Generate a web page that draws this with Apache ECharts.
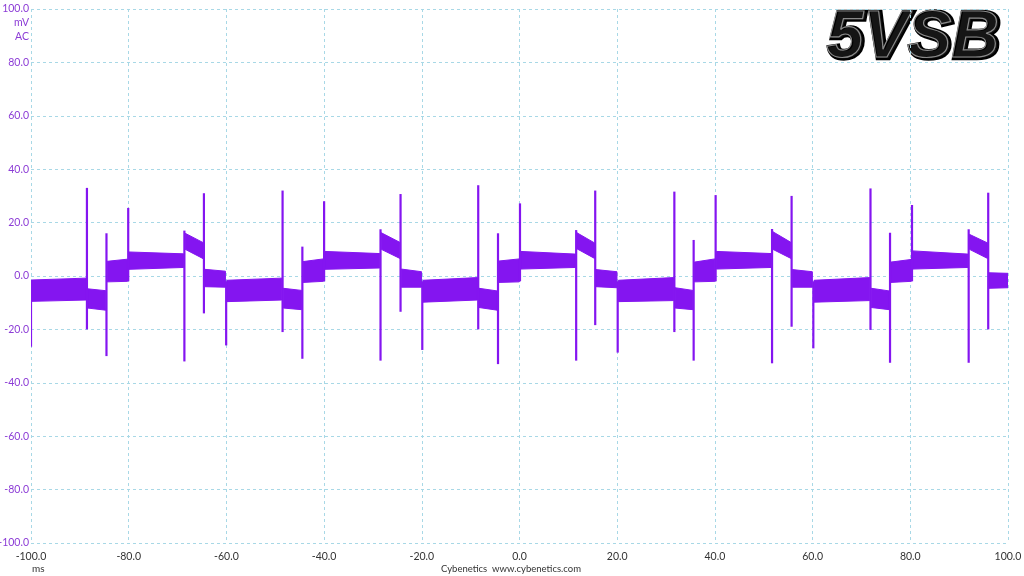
<!DOCTYPE html>
<html>
<head>
<meta charset="utf-8">
<script src="https://cdn.jsdelivr.net/npm/echarts@6/dist/echarts.min.js"></script>
<style>
html,body{margin:0;padding:0;background:#fff;}
#chart{width:1024px;height:576px;}
</style>
</head>
<body>
<div id="chart"></div>
<script>
// x axis: time in ms, y axis: ripple in mV
const xTicks = [-100, -80, -60, -40, -20, 0, 20, 40, 60, 80, 100];
const yTicks = [-100, -80, -60, -40, -20, 0, 20, 40, 60, 80, 100];

// Noise band segments: [tStart, tEnd, lowStart, lowEnd, highStart, highEnd]
const bands = [
  [-99.9, -88.7, -9.5, -9.0, -1.5, -0.8],
  [-88.4, -84.7, -12.0, -12.8, -4.8, -5.5],
  [-84.4, -80.25, -2.2, -2.0, 5.5, 6.3],
  [-79.95, -68.75, 2.5, 3.2, 9.0, 8.3],
  [-68.45, -64.75, 10.0, 6.5, 16.0, 12.5],
  [-64.45, -60.2, -4.0, -4.2, 2.5, 1.8],

  [-59.9, -48.65, -9.6, -9.0, -1.6, -0.8],
  [-48.35, -44.6, -12.0, -12.6, -4.6, -5.4],
  [-44.3, -40.15, -2.4, -2.0, 5.4, 6.4],
  [-39.85, -28.6, 2.5, 3.0, 9.2, 8.4],
  [-28.3, -24.5, 10.0, 6.6, 16.2, 12.6],
  [-24.2, -20.05, -4.2, -4.2, 2.6, 1.6],

  [-19.75, -8.6, -9.8, -9.0, -1.6, -0.6],
  [-8.3, -4.55, -11.8, -12.8, -4.6, -5.6],
  [-4.25, -0.05, -2.4, -2.2, 5.6, 6.4],
  [0.25, 11.45, 2.6, 3.2, 9.2, 8.2],
  [11.75, 15.35, 10.2, 6.6, 16.2, 12.4],
  [15.65, 19.95, -4.0, -4.4, 2.4, 1.6],

  [20.25, 31.55, -9.6, -9.2, -1.6, -0.6],
  [31.85, 35.5, -12.0, -12.6, -4.4, -5.4],
  [35.8, 40.0, -2.2, -2.0, 5.2, 6.4],
  [40.3, 51.55, 2.6, 3.2, 9.2, 8.4],
  [51.85, 55.55, 10.0, 6.6, 16.6, 12.6],
  [55.85, 59.95, -4.2, -4.2, 2.4, 1.6],

  [60.3, 71.7, -9.8, -9.2, -1.6, -0.6],
  [72.0, 75.7, -11.8, -12.6, -4.6, -5.6],
  [76.0, 80.2, -2.4, -2.0, 5.2, 6.2],
  [80.5, 91.8, 2.6, 3.2, 9.4, 8.2],
  [92.1, 95.8, 10.0, 6.6, 15.6, 12.4],
  [96.1, 100.0, -4.6, -4.4, 1.2, 1.0]
];

// Switching spikes: [t, min, max]
const spikes = [
  [-100.0, -26.5, -2], [-88.55, -20, 33], [-84.55, -30, 16], [-80.1, -2, 25.5], [-68.6, -32, 17], [-64.6, -14, 31],
  [-60.05, -26, -2], [-48.5, -21, 32], [-44.45, -31, 11], [-40.0, -2, 28], [-28.45, -31.7, 17.5], [-24.35, -13.4, 30.7],
  [-19.9, -27.7, -2], [-8.45, -20, 34], [-4.4, -33, 16], [0.1, -2, 27.2], [11.6, -31.7, 17.2], [15.5, -18.4, 32],
  [20.1, -28.7, -2], [31.7, -21, 31.6], [35.65, -31.7, 13.5], [40.15, -2, 30.3], [51.7, -32.7, 17.6], [55.7, -19, 30],
  [60.15, -27.1, -2], [71.85, -20.2, 32.8], [75.85, -32.5, 16.2], [80.35, -2, 26.6], [91.95, -32.5, 17.5], [95.95, -20, 31.2]
];

const waveColor = '#8415f0';
const yLabelColor = '#8c3cd6';
const gridColor = '#a8d8e6';
const fontFam = 'Lato, "Open Sans", sans-serif';
const titleFont = 'italic bold 66px "Liberation Sans", Arial, sans-serif';

const chart = echarts.init(document.getElementById('chart'), null, {renderer: 'canvas'});

chart.setOption({
  animation: false,
  backgroundColor: '#ffffff',
  grid: {left: 31, right: 16, top: 9, bottom: 33, containLabel: false, outerBoundsMode: 'none'},
  xAxis: {
    type: 'value', min: xTicks[0], max: xTicks[xTicks.length - 1], interval: 20,
    axisLine: {show: false}, axisTick: {show: false},
    axisLabel: {color: '#333', fontSize: 10.5, fontFamily: fontFam, margin: 8,
      formatter: v => v.toFixed(1)},
    splitLine: {show: true, lineStyle: {color: gridColor, type: [3, 3], width: 1}}
  },
  yAxis: {
    type: 'value', min: yTicks[0], max: yTicks[yTicks.length - 1], interval: 20,
    axisLine: {show: false}, axisTick: {show: false},
    axisLabel: {color: yLabelColor, fontSize: 10.5, fontFamily: fontFam, margin: 2,
      formatter: v => v.toFixed(1)},
    splitLine: {show: true, lineStyle: {color: gridColor, type: [3, 3], width: 1}}
  },
  series: [
    {
      type: 'custom',
      clip: true,
      data: bands,
      encode: {x: [0, 1], y: [2, 3, 4, 5]},
      renderItem: (params, api) => {
        const a = api.coord([api.value(0), api.value(4)]);
        const b = api.coord([api.value(1), api.value(5)]);
        const c = api.coord([api.value(1), api.value(3)]);
        const d = api.coord([api.value(0), api.value(2)]);
        return {type: 'polygon', shape: {points: [a, b, c, d]},
          style: {fill: waveColor, stroke: waveColor, lineWidth: 1}};
      }
    },
    {
      type: 'custom',
      clip: true,
      data: spikes,
      encode: {x: 0, y: [1, 2]},
      renderItem: (params, api) => {
        const lo = api.coord([api.value(0), api.value(1)]);
        const hi = api.coord([api.value(0), api.value(2)]);
        return {type: 'line', shape: {x1: lo[0], y1: lo[1], x2: hi[0], y2: hi[1]},
          style: {stroke: waveColor, lineWidth: 2.2}};
      }
    }
  ],
  graphic: [
    {type: 'text', right: 995, top: 17,
      style: {text: 'mV', fill: yLabelColor, font: '10.5px ' + fontFam, align: 'right'}},
    {type: 'text', right: 995, top: 31,
      style: {text: 'AC', fill: yLabelColor, font: '10.5px ' + fontFam, align: 'right'}},
    {type: 'text', left: 32, top: 564,
      style: {text: 'ms', fill: '#333', font: '10px ' + fontFam}},
    {type: 'text', left: 441, top: 564,
      style: {text: 'Cybenetics  www.cybenetics.com', fill: '#333', font: '9.5px ' + fontFam}},
    {type: 'text', left: 826, top: 5,
      style: {text: '5VSB', font: titleFont,
        fill: '#151515', stroke: '#000', lineWidth: 4.5,
        shadowColor: 'rgba(0,0,0,0.3)', shadowBlur: 3, shadowOffsetX: 2, shadowOffsetY: 2}},
    {type: 'text', left: 826, top: 5,
      style: {text: '5VSB', font: titleFont,
        fill: 'rgba(0,0,0,0)', stroke: '#8a8a8a', lineWidth: 1.2}}
  ]
});
</script>
</body>
</html>
